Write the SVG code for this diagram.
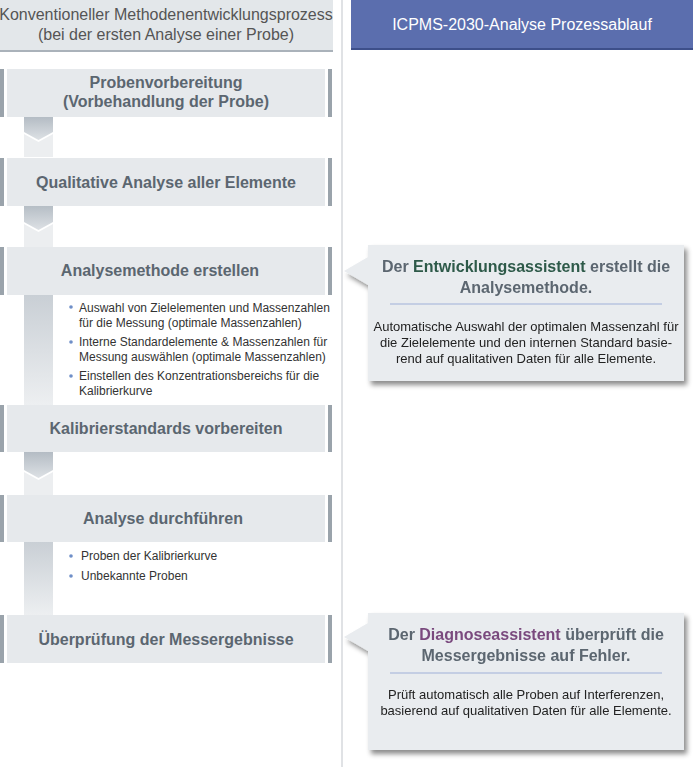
<svg xmlns="http://www.w3.org/2000/svg" width="700" height="767" viewBox="0 0 700 767">
<defs>
<linearGradient id="chev" x1="0" y1="0" x2="0" y2="1"><stop offset="0" stop-color="#b4bcc4"/><stop offset="1" stop-color="#dde1e5"/></linearGradient>
<linearGradient id="strip" x1="0" y1="0" x2="0" y2="1"><stop offset="0" stop-color="#c9cfd5"/><stop offset="1" stop-color="#edeff1"/></linearGradient>
<filter id="sh" x="-10%" y="-10%" width="125%" height="130%"><feDropShadow dx="3" dy="4" stdDeviation="2.5" flood-color="#000" flood-opacity="0.45"/></filter>
</defs>
<style>
text{font-family:"Liberation Sans",Arial,sans-serif}
.box{fill:#e6e9ec}
.bar{fill:#9aa3ab}
.bt{font-size:16px;font-weight:bold;fill:#5b6670;text-anchor:middle}
.li{font-size:12px;fill:#333}
.dot{fill:#6f8fc8}
.ct{font-size:16px;font-weight:bold;fill:#5b6670;text-anchor:middle}
.cs{font-size:13px;fill:#222;text-anchor:middle}
</style>
<rect width="700" height="767" fill="#fff"/>
<line x1="342" y1="0" x2="342" y2="767" stroke="#d6d9dc" stroke-width="1.5"/>
<g id="header-left">
<rect x="0" y="0" width="333" height="50" fill="#e3e7ea"/>
<rect x="0" y="50" width="333" height="2" fill="#aab2ba"/>
<text x="166" y="20" font-size="16" fill="#555" text-anchor="middle">Konventioneller Methodenentwicklungsprozess</text>
<text x="166" y="40" font-size="16" fill="#555" text-anchor="middle">(bei der ersten Analyse einer Probe)</text>
</g>
<g id="header-right">
<rect x="351" y="0" width="342" height="48" fill="#5b6eae"/>
<rect x="351" y="48" width="342" height="2" fill="#3d4f8a"/>
<text x="522" y="30" font-size="16" fill="#fff" text-anchor="middle">ICPMS-2030-Analyse Prozessablauf</text>
</g>
<g id="connectors">
<polygon points="24,117 53,117 53,132 38.5,140 24,132" fill="url(#chev)"/>
<polygon points="24,134 38.5,142 53,134 53,157 24,157" fill="#eceef0"/>
<polygon points="24,205 53,205 53,222 38.5,230 24,222" fill="url(#chev)"/>
<polygon points="24,224 38.5,232 53,224 53,247 24,247" fill="#eceef0"/>
<rect x="24" y="295" width="29" height="110" fill="url(#strip)"/>
<polygon points="24,452 53,452 53,470 38.5,478 24,470" fill="url(#chev)"/>
<polygon points="24,472 38.5,480 53,472 53,495 24,495" fill="#eceef0"/>
<rect x="24" y="542" width="29" height="73" fill="url(#strip)"/>
</g>
<g id="n1"><rect class="bar" x="0" y="69" width="4" height="48"/><rect class="bar" x="328" y="69" width="4" height="48"/><rect class="box" x="7" y="69" width="318" height="48"/>
<text class="bt" x="166" y="88">Probenvorbereitung</text><text class="bt" x="166" y="107">(Vorbehandlung der Probe)</text></g>
<g id="n2"><rect class="bar" x="0" y="158" width="4" height="48"/><rect class="bar" x="328" y="158" width="4" height="48"/><rect class="box" x="7" y="158" width="318" height="48"/>
<text class="bt" x="166" y="188">Qualitative Analyse aller Elemente</text></g>
<g id="n3"><rect class="bar" x="0" y="247" width="4" height="48"/><rect class="bar" x="328" y="247" width="4" height="48"/><rect class="box" x="7" y="247" width="318" height="48"/>
<text class="bt" x="160" y="276">Analysemethode erstellen</text>
<circle class="dot" cx="71" cy="307" r="1.8"/><text class="li" x="79" y="312">Auswahl von Zielelementen und Massenzahlen</text><text class="li" x="79" y="327">für die Messung (optimale Massenzahlen)</text>
<circle class="dot" cx="71" cy="342" r="1.8"/><text class="li" x="79" y="346">Interne Standardelemente &amp; Massenzahlen für</text><text class="li" x="79" y="361">Messung auswählen (optimale Massenzahlen)</text>
<circle class="dot" cx="71" cy="376" r="1.8"/><text class="li" x="79" y="380">Einstellen des Konzentrationsbereichs für die</text><text class="li" x="79" y="395">Kalibrierkurve</text></g>
<g id="n4"><rect class="bar" x="0" y="405" width="4" height="47"/><rect class="bar" x="328" y="405" width="4" height="47"/><rect class="box" x="7" y="405" width="318" height="47"/>
<text class="bt" x="166" y="434">Kalibrierstandards vorbereiten</text></g>
<g id="n5"><rect class="bar" x="0" y="495" width="4" height="47"/><rect class="bar" x="328" y="495" width="4" height="47"/><rect class="box" x="7" y="495" width="318" height="47"/>
<text class="bt" x="163" y="524">Analyse durchführen</text>
<circle class="dot" cx="71" cy="556" r="1.8"/><text class="li" x="81" y="560">Proben der Kalibrierkurve</text>
<circle class="dot" cx="71" cy="576" r="1.8"/><text class="li" x="81" y="580">Unbekannte Proben</text></g>
<g id="n6"><rect class="bar" x="0" y="615" width="4" height="48"/><rect class="bar" x="328" y="615" width="4" height="48"/><rect class="box" x="7" y="615" width="318" height="48"/>
<text class="bt" x="166" y="645">Überprüfung der Messergebnisse</text></g>
<g id="c1" filter="url(#sh)">
<path d="M368,245 H684 V381 H368 V285 L344,271 L368,257 Z" fill="#e9ecef"/>
<text class="ct" x="526" y="272">Der <tspan fill="#2e5a4a">Entwicklungsassistent</tspan> erstellt die</text>
<text class="ct" x="526" y="293">Analysemethode.</text>
<line x1="390" y1="304" x2="662" y2="304" stroke="#9fb0d8"/>
<text class="cs" x="526" y="331">Automatische Auswahl der optimalen Massenzahl für</text>
<text class="cs" x="526" y="347">die Zielelemente und den internen Standard basie-</text>
<text class="cs" x="526" y="363">rend auf qualitativen Daten für alle Elemente.</text>
</g>
<g id="c2" filter="url(#sh)">
<path d="M368,613 H684 V750 H368 V651 L344,637 L368,623 Z" fill="#e9ecef"/>
<text class="ct" x="526" y="640">Der <tspan fill="#7a4a7e">Diagnoseassistent</tspan> überprüft die</text>
<text class="ct" x="526" y="661">Messergebnisse auf Fehler.</text>
<line x1="390" y1="673" x2="662" y2="673" stroke="#9fb0d8"/>
<text class="cs" x="526" y="699">Prüft automatisch alle Proben auf Interferenzen,</text>
<text class="cs" x="526" y="715">basierend auf qualitativen Daten für alle Elemente.</text>
</g>
</svg>
